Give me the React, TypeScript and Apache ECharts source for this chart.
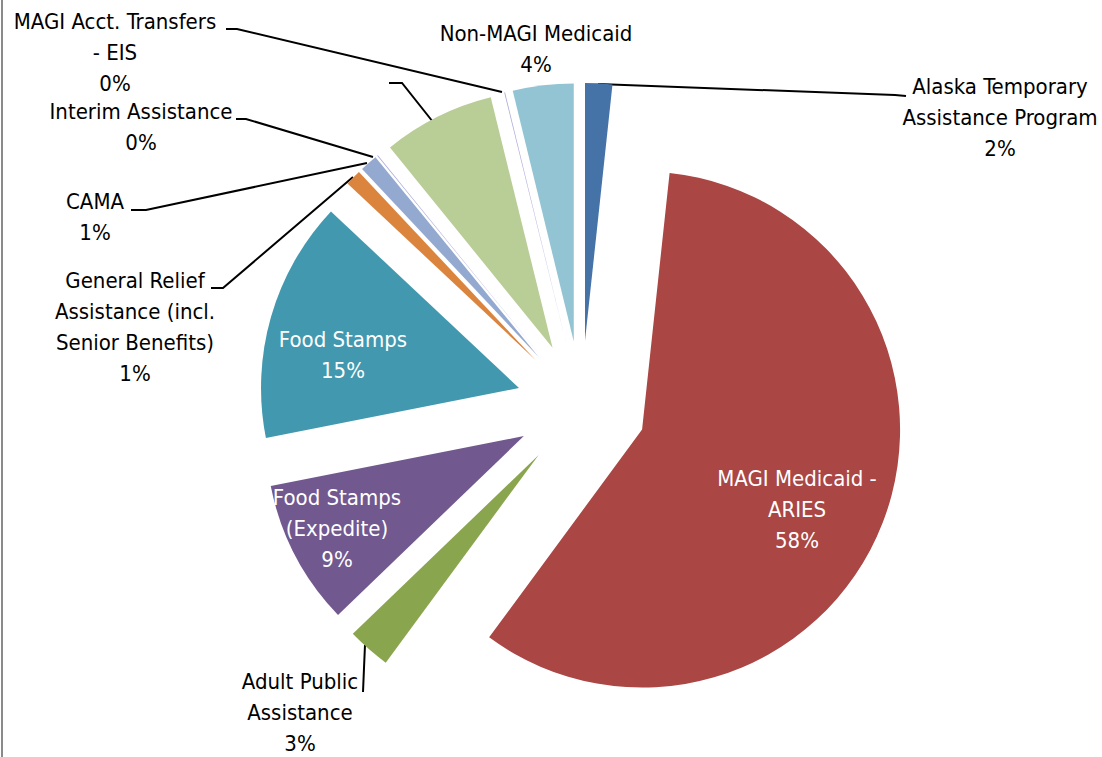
import React, { useEffect, useRef } from "react";
import * as echarts from "echarts";

// ---- data ----
const categories = [
  "Alaska Temporary\nAssistance Program",
  "MAGI Medicaid -\nARIES",
  "Adult Public\nAssistance",
  "Food Stamps\n(Expedite)",
  "Food Stamps",
  "General Relief\nAssistance (incl.\nSenior Benefits)",
  "CAMA",
  "Interim Assistance",
  "",
  "MAGI Acct. Transfers\n- EIS",
  "Non-MAGI Medicaid",
];
const shares = [1.7, 58.4, 2.7, 9.1, 15.1, 1.0, 1.1, 0.05, 7.0, 0.05, 3.8];
const insideLabels = [1, 3, 4];

// ---- styles / layout ----
const colors = [
  "#4572A7", "#AA4643", "#89A54E", "#71588F", "#4198AF", "#DB843D",
  "#93A9CF", "#A9A7D8", "#B9CD96", "#A9A7D8", "#93C4D4",
];
const CENTER = [581.5, 406];
const RADIUS = 258;
const EXPLODE = 65;
const labelCenters: number[][] = [
  [1000, 117], [797, 509], [300, 712], [337, 528], [343, 355], [135, 327],
  [95, 217], [141, 127], [380, 83], [115, 52], [536, 49],
];
const leaderLines: (number[][] | null)[] = [
  [[598, 84], [895, 95], [906, 96]],
  null,
  [[365, 645], [364, 668], [363, 692]],
  null,
  null,
  [[353, 177], [223, 288], [211, 288]],
  [[367, 163], [146, 210], [131, 210]],
  [[373, 157], [246, 119], [236, 119]],
  [[433, 122], [402, 83], [389, 83]],
  [[502, 92], [237, 29], [226, 29]],
  null,
];

const FONT = "'Liberation Sans Narrow', 'DejaVu Sans Condensed', sans-serif";

export default function App() {
  const ref = useRef<HTMLDivElement>(null);
  useEffect(() => {
    if (!ref.current) return;
    const chart = echarts.init(ref.current, undefined, { renderer: "svg" });
    const total = shares.reduce((a, b) => a + b, 0);
    let cum = 0;
    const series = categories.map((_, k) => {
      const mid = ((cum + shares[k] / 2) / total) * Math.PI * 2;
      cum += shares[k];
      const center = [
        CENTER[0] + EXPLODE * Math.sin(mid),
        CENTER[1] - EXPLODE * Math.cos(mid),
      ];
      const inside = insideLabels.includes(k);
      const data = categories.map((name, i) => {
        const own = i === k;
        return {
          name,
          value: shares[i],
          itemStyle: { color: own ? colors[i] : "rgba(0,0,0,0)" },
          label: {
            show: own,
            color: inside ? "#ffffff" : "#000000",
          },
          labelLine: { show: own && !!leaderLines[i] },
        };
      });
      return {
        type: "pie",
        center,
        radius: RADIUS,
        startAngle: 90,
        clockwise: true,
        avoidLabelOverlap: false,
        minAngle: 0,
        emphasis: { disabled: true },
        silent: true,
        itemStyle: { borderWidth: 0 },
        label: {
          position: "outside",
          fontFamily: FONT,
          fontSize: 22,
          lineHeight: 31,
          align: "center",
          formatter: (p: any) =>
            p.name ? `${p.name}\n${Math.round(p.percent)}%` : "",
        },
        labelLine: {
          lineStyle: { color: "#000000", width: 2 },
        },
        labelLayout: (p: any) => {
          const i = p.dataIndex;
          const c = labelCenters[i];
          const out: any = {
            x: c[0],
            y: c[1],
            align: "center",
            verticalAlign: "middle",
            hideOverlap: false,
          };
          if (leaderLines[i]) out.labelLinePoints = leaderLines[i];
          return out;
        },
        data,
      };
    });
    chart.setOption({
      animation: false,
      backgroundColor: "#ffffff",
      graphic: [
        {
          type: "rect",
          shape: { x: 1, y: 0, width: 2, height: 757 },
          style: { fill: "#8a8a8a" },
          silent: true,
        },
      ],
      series,
    });
    return () => chart.dispose();
  }, []);
  return (
    <div
      ref={ref}
      style={{ position: "absolute", left: 0, top: 0, width: 1102, height: 757 }}
    />
  );
}
